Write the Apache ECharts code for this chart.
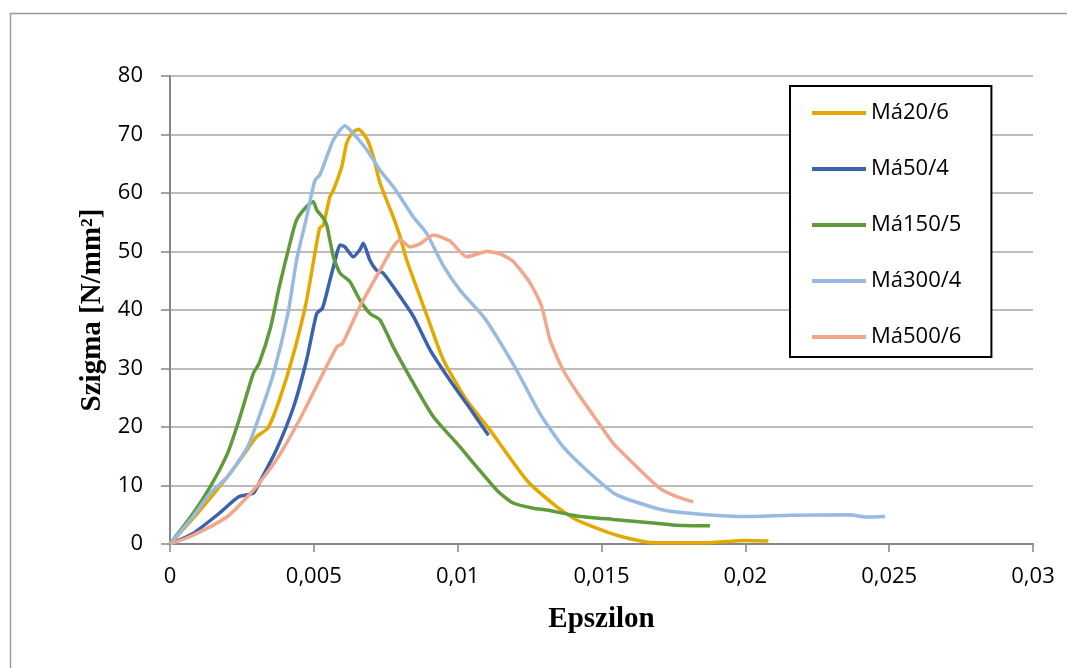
<!DOCTYPE html>
<html>
<head>
<meta charset="utf-8">
<title>Szigma - Epszilon</title>
<script src="https://cdn.jsdelivr.net/npm/echarts@6/dist/echarts.min.js"></script>
<style>
  html, body { margin: 0; padding: 0; background: #fff; }
  #chart { width: 1067px; height: 668px; }
</style>
</head>
<body>
<div id="chart"></div>
<script>
// [epszilon, szigma] pontok
var ma20_6 = [[0,0],[0.001,5.5],[0.002,11.5],[0.0026,15.5],[0.003,18.3],[0.0034,19.8],[0.0038,24.6],[0.0043,32.6],[0.00475,41.7],[0.0052,54.0],[0.00533,54.5],[0.00556,59.4],[0.00568,60.5],[0.00597,64.5],[0.00614,68.5],[0.00632,70.2],[0.00655,70.9],[0.00684,69.3],[0.00707,66.2],[0.0073,61.7],[0.00776,55.9],[0.008,52.5],[0.00823,48.5],[0.00892,39.2],[0.0095,31.5],[0.01031,24.6],[0.01112,19.5],[0.0124,10.9],[0.01344,6.4],[0.01414,4.1],[0.01553,1.5],[0.0168,0.2],[0.01842,0.2],[0.02005,0.6],[0.0208,0.5]]
var ma50_4 = [[0,0],[0.0008,1.8],[0.0017,5.2],[0.0024,8.1],[0.0029,8.7],[0.0031,10.4],[0.0037,16.1],[0.0043,23.5],[0.00475,31.5],[0.0051,39.4],[0.0053,40.3],[0.00556,45.1],[0.00574,48.5],[0.00591,51.1],[0.00608,50.8],[0.00637,49.1],[0.0066,50.3],[0.00672,51.4],[0.00695,48.5],[0.00718,46.8],[0.00741,46.3],[0.008,42.3],[0.00846,38.9],[0.00904,33.2],[0.00973,28.0],[0.01031,24.0],[0.01107,18.6]]
var ma150_5 = [[0,0],[0.0008,5.2],[0.0014,9.8],[0.002,15.5],[0.0024,21.2],[0.0029,29.2],[0.0031,30.9],[0.0035,37.1],[0.0038,44.0],[0.0042,52.0],[0.0044,55.4],[0.00475,57.7],[0.00498,58.5],[0.0051,57.1],[0.00533,55.7],[0.00545,54.5],[0.00568,49.1],[0.00591,46.3],[0.00626,44.8],[0.0066,41.7],[0.00695,39.4],[0.0073,38.3],[0.00776,33.7],[0.00846,27.5],[0.00915,21.8],[0.01008,16.6],[0.01066,13.2],[0.01136,9.2],[0.01193,7.0],[0.01263,6.1],[0.0131,5.8],[0.01414,4.8],[0.01541,4.2],[0.0168,3.6],[0.01761,3.2],[0.01877,3.1]]
var ma300_4 = [[0,0],[0.0008,4.7],[0.0014,8.7],[0.002,11.5],[0.0027,16.6],[0.0031,21.8],[0.0036,29.2],[0.0041,39.4],[0.0044,48.5],[0.00475,55.9],[0.00504,62.2],[0.00521,63.1],[0.00545,66.2],[0.00568,69.1],[0.00608,71.5],[0.00637,70.2],[0.00684,67.4],[0.0073,63.9],[0.00776,61.1],[0.00846,55.9],[0.00892,53.1],[0.0095,47.6],[0.01008,43.4],[0.01089,38.9],[0.01136,35.4],[0.01205,29.7],[0.01286,22.3],[0.01367,16.6],[0.0146,12.1],[0.01553,8.4],[0.01715,5.8],[0.01842,5.1],[0.02005,4.7],[0.0216,4.9],[0.02364,5.0],[0.02422,4.6],[0.02486,4.7]]
var ma500_6 = [[0,0],[0.0008,1.5],[0.002,4.7],[0.0029,9.2],[0.0037,14.4],[0.0045,21.2],[0.0052,28.0],[0.0058,33.7],[0.006,34.3],[0.0066,40.6],[0.0073,46.8],[0.00776,50.8],[0.008,52.0],[0.00834,50.8],[0.00869,51.3],[0.00915,52.8],[0.00973,51.8],[0.01002,50.3],[0.01031,49.1],[0.01101,50.0],[0.01147,49.6],[0.01193,48.3],[0.01252,44.6],[0.01292,40.6],[0.01321,34.9],[0.01367,29.7],[0.01425,25.2],[0.01483,21.2],[0.01541,17.2],[0.0161,13.8],[0.01703,9.5],[0.01761,8.1],[0.01819,7.2]]

var names = ['Má20/6', 'Má50/4', 'Má150/5', 'Má300/4', 'Má500/6']
var dataList = [ma20_6, ma50_4, ma150_5, ma300_4, ma500_6]
var colors = ['#e3a900', '#3a62ad', '#5f9b3b', '#97bae2', '#f2a68c']

var chart = echarts.init(document.getElementById('chart'))

var seriesList = []
dataList.forEach(function (item, index) {
  seriesList.push({
    name: names[index],
    type: 'line',
    smooth: 0.2,
    symbol: 'none',
    lineStyle: { width: 3.5, color: colors[index] },
    itemStyle: { color: colors[index] },
    data: item
  })
})

var labelFont = { fontFamily: 'Open Sans', fontSize: 22, color: '#000' }
var titleFont = { fontFamily: 'Liberation Serif', fontWeight: 'bold', fontSize: 29, color: '#000' }

chart.setOption({
  animation: false,
  backgroundColor: '#fff',
  graphic: [{
    type: 'rect',
    left: 8,
    top: 11,
    shape: { width: 1080, height: 700 },
    style: { fill: 'none', stroke: '#9a9a9a', lineWidth: 1.5 },
    z: -1
  }],
  grid: {
    left: 170,
    top: 76,
    right: 34,
    bottom: 124
  },
  legend: {
    orient: 'vertical',
    left: 790,
    top: 86,
    data: names,
    icon: 'rect',
    itemWidth: 54,
    itemHeight: 4,
    itemGap: 34,
    padding: [16, 30, 9, 22],
    backgroundColor: '#fff',
    borderColor: '#000',
    borderWidth: 2,
    borderRadius: 0,
    textStyle: { fontFamily: 'Open Sans', fontSize: 22, color: '#000', lineHeight: 22 }
  },
  xAxis: {
    type: 'value',
    min: 0,
    max: 0.03,
    interval: 0.005,
    name: 'Epszilon',
    nameLocation: 'middle',
    nameGap: 61,
    nameTextStyle: titleFont,
    axisLine: { onZero: false, lineStyle: { color: '#868686', width: 2 } },
    axisTick: { show: true, length: 8, lineStyle: { color: '#868686', width: 1.5 } },
    axisLabel: {
      margin: 22,
      ...labelFont,
      formatter: function (value) {
        return String(Number(value.toFixed(3))).replace('.', ',')
      }
    },
    splitLine: { show: false }
  },
  yAxis: {
    type: 'value',
    min: 0,
    max: 80,
    interval: 10,
    name: 'Szigma [N/mm²]',
    nameLocation: 'middle',
    nameGap: 62,
    nameTextStyle: titleFont,
    axisLine: { show: true, lineStyle: { color: '#868686', width: 2 } },
    axisTick: { show: true, length: 9, lineStyle: { color: '#868686', width: 1.5 } },
    axisLabel: { margin: 27, ...labelFont },
    splitLine: { lineStyle: { color: '#a6a6a6', width: 1.5 } }
  },
  series: seriesList
})
</script>
</body>
</html>
